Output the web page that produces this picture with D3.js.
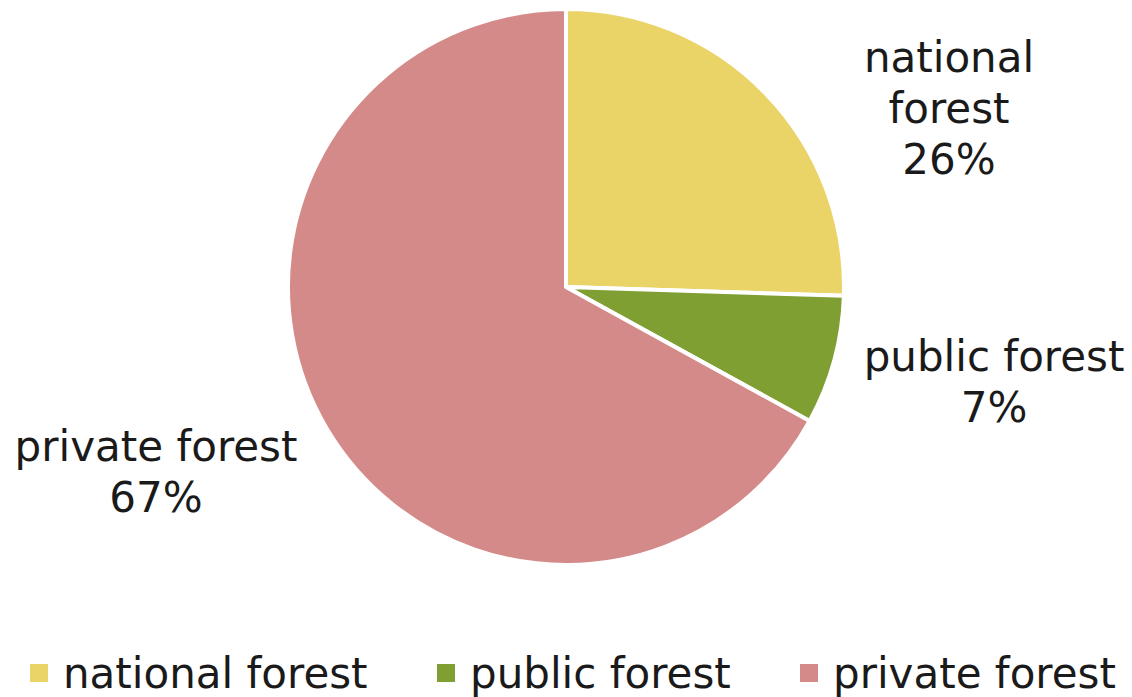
<!DOCTYPE html>
<html>
<head>
<meta charset="utf-8">
<script src="https://cdn.jsdelivr.net/npm/d3@7"></script>
<style>
  body { margin: 0; background: #fff; }
  text { font-family: "DejaVu Sans", Verdana, sans-serif; fill: #1a1a1a; }
</style>
</head>
<body>
<svg id="chart" width="1132" height="697"></svg>
<script>
// data (slice sizes, labels show rounded percents)
const categories = ["national forest", "public forest", "private forest"];
const shares = [25.5, 7.5, 67];
const percentLabels = ["26%", "7%", "67%"];
const colors = ["#EAD367", "#7F9F33", "#D48A88"];
// label line breaks as shown on the chart
const nameLines = [["national", "forest"], ["public forest"], ["private forest"]];
const labelPos = [[949, 72], [994, 371], [156, 461]];
const legendX = [30, 437, 800];

const svg = d3.select("#chart");
const cx = 566, cy = 287, r = 278;

const pie = d3.pie().sort(null).value(d => d);
const arc = d3.arc().innerRadius(0).outerRadius(r);

const g = svg.append("g").attr("transform", `translate(${cx},${cy})`);
g.selectAll("path")
  .data(pie(shares))
  .enter()
  .append("path")
  .attr("d", arc)
  .attr("fill", (d, i) => colors[i])
  .attr("stroke", "#fff")
  .attr("stroke-width", 4)
  .attr("stroke-linejoin", "round");

// slice labels
nameLines.forEach(function(lines, i) {
  const t = svg.append("text")
    .attr("text-anchor", "middle")
    .attr("font-size", 42);
  lines.concat([percentLabels[i]]).forEach(function(line, j) {
    t.append("tspan")
      .attr("x", labelPos[i][0])
      .attr("y", labelPos[i][1] + j * 51)
      .text(line);
  });
});

// legend
const legend = svg.selectAll(".legend")
  .data(categories)
  .enter()
  .append("g")
  .attr("class", "legend")
  .attr("transform", (d, i) => `translate(${legendX[i]},0)`);

legend.append("rect")
  .attr("x", 0).attr("y", 664)
  .attr("width", 18).attr("height", 18)
  .attr("fill", (d, i) => colors[i]);

legend.append("text")
  .attr("x", 33).attr("y", 688)
  .attr("font-size", 42)
  .text(d => d);
</script>
</body>
</html>
